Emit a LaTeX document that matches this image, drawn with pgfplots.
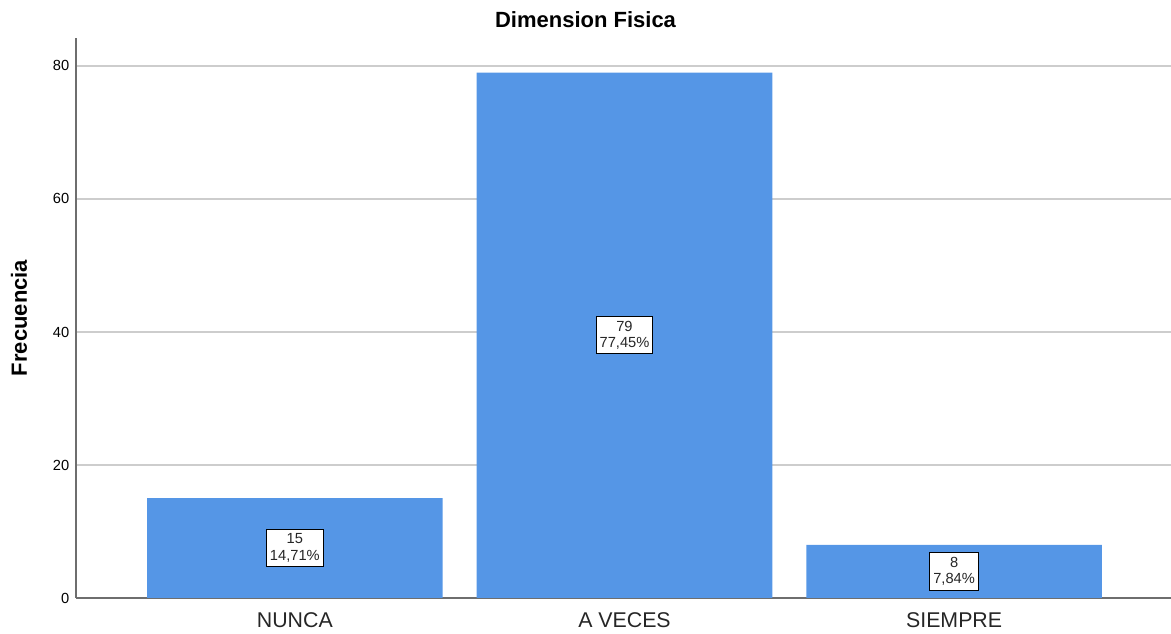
\documentclass[border=0pt]{standalone}
\usepackage{pgfplots}
\pgfplotsset{compat=1.18}
\usepackage{pgfplotstable}
\usepackage{fontspec}
\setmainfont{Liberation Sans}
\definecolor{barblue}{RGB}{85,150,230}
\definecolor{gridgray}{RGB}{205,205,205}
\definecolor{axgray}{RGB}{110,110,110}
\pgfplotstableread{
x n half pct
0 15 7.5 14.71
1 79 39.5 77.45
2 8 4.0 7.84
}\datatable
\begin{document}
\begin{tikzpicture}
\path[use as bounding box] (-57pt,-27pt) rectangle (821.25pt,448.5pt);
\begin{axis}[
  scale only axis,
  width=821.25pt, height=420pt,
  xmin=-0.664, xmax=2.658,
  ymin=0, ymax=84.2,
  axis x line*=bottom, axis y line*=left,
  axis line style={draw=axgray, line width=1pt},
  x axis line style={-}, y axis line style={-},
  xtick={0,1,2},
  xticklabels={NUNCA, A VECES, SIEMPRE},
  ytick={0,20,40,60,80},
  major tick length=0pt,
  ymajorgrids,
  grid style={draw=gridgray, line width=1pt},
  /pgf/number format/assume math mode=true,
  yticklabel style={font=\fontsize{11}{13}\selectfont, xshift=-1.5pt},
  xticklabel style={font=\fontsize{16}{19}\selectfont, color=black!85, yshift=-7.5pt},
  ylabel={Frecuencia},
  ylabel style={at={(axis description cs:-0.0521,0.5)}, anchor=center, rotate=0, font=\bfseries\fontsize{16.5}{19}\selectfont},
  title={Dimension Fisica},
  title style={at={(axis description cs:0.4653,1)}, anchor=base, yshift=1.8pt, font=\bfseries\fontsize{16.5}{19}\selectfont},
  clip=false,
]
\addplot[ybar, bar width=0.897, fill=barblue, draw=none] table[x=x, y=n] {\datatable};
\addplot[draw=none, mark=none,
  visualization depends on={\thisrow{pct} \as \pct},
  point meta=explicit,
  nodes near coords={\pgfmathprintnumber{\pgfplotspointmeta}\\\pgfmathprintnumber[fixed, precision=2, fixed zerofill, use comma]{\pct}\%},
  every node near coord/.append style={anchor=center, align=center, fill=white, draw=black, line width=0.75pt, inner xsep=2.5pt, inner ysep=3.2pt, font=\fontsize{11}{12.5}\selectfont, text=black!85},
] table[x=x, y=half, meta=n] {\datatable};
\end{axis}
\end{tikzpicture}
\end{document}
